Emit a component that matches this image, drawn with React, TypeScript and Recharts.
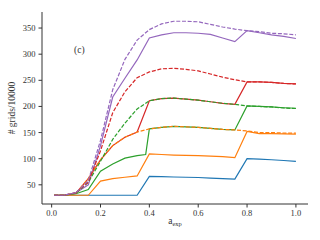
import React from 'react'
import { LineChart, Line, XAxis, YAxis } from 'recharts'

// x positions of the samples (a_exp)
const xs = [0.01, 0.05, 0.1, 0.15, 0.2, 0.25, 0.3, 0.35, 0.4, 0.45, 0.5, 0.55, 0.6, 0.65, 0.7, 0.75, 0.8, 0.85, 0.9, 0.95, 1.0]
// green solid has one extra sample just before its jump
const xsGreen = [0.01, 0.05, 0.1, 0.15, 0.2, 0.25, 0.3, 0.35, 0.385, 0.4, 0.45, 0.5, 0.55, 0.6, 0.65, 0.7, 0.75, 0.8, 0.85, 0.9, 0.95, 1.0]

const blueSolid = [30, 30, 30, 30, 30, 30, 30, 30, 66, 65.5, 65, 64.5, 64, 63, 62, 61, 100, 99, 98, 96.5, 95]
const orangeSolid = [30, 30, 30, 30, 57, 62, 64.5, 67, 109, 108, 107, 106.5, 106, 105, 104, 102, 152, 148, 148, 147.5, 147]
const greenSolid = [30, 30, 33, 41, 76, 90, 101, 106, 108, 157, 160, 162, 161, 160, 158, 156, 155, 201, 200, 199, 197.5, 196.5]
const redSolid = [30, 30, 34, 62, 98, 125, 141, 151, 211, 215, 216, 214, 212, 209, 206, 204, 247, 247, 246, 244, 243]
const purpleSolid = [30, 30, 35, 50, 125, 218, 254, 289, 331, 337, 341, 341, 340, 338, 331, 324, 345, 341, 337, 334, 330]

const orangeDashed = [30, 30, 34, 62, 98, 125, 141, 151, 157, 160, 162, 161, 160, 158, 156, 155, 153, 150, 150, 149, 149]
const greenDashed = [30, 30, 34, 55, 95, 137, 168, 195, 211, 215, 216, 214, 212, 209, 206, 204, 201, 200, 199, 197, 196]
const redDashed = [30, 30, 35, 55, 115, 188, 228, 255, 266, 272, 273, 271, 268, 262, 256, 251, 247, 247, 246, 244, 243]
const purpleDashed = [30, 30, 35, 58, 135, 232, 290, 327, 347, 358, 363, 363, 362, 357, 352, 348, 345, 343, 340, 339, 337]

const xTicks = [0, 0.2, 0.4, 0.6, 0.8, 1.0]
const yTicks = [50, 100, 150, 200, 250, 300, 350]

const toPoints = (x: number[], y: number[]) => x.map((v, i) => ({ x: v, y: y[i] }))

const solids = [
  { name: 'blue', color: '#1f77b4', pts: toPoints(xs, blueSolid) },
  { name: 'orange', color: '#ff7f0e', pts: toPoints(xs, orangeSolid) },
  { name: 'green', color: '#2ca02c', pts: toPoints(xsGreen, greenSolid) },
  { name: 'red', color: '#d62728', pts: toPoints(xs, redSolid) },
  { name: 'purple', color: '#9467bd', pts: toPoints(xs, purpleSolid) },
]
const dashed = [
  { name: 'orange-d', color: '#ff7f0e', pts: toPoints(xs, orangeDashed) },
  { name: 'green-d', color: '#2ca02c', pts: toPoints(xs, greenDashed) },
  { name: 'red-d', color: '#d62728', pts: toPoints(xs, redDashed) },
  { name: 'purple-d', color: '#9467bd', pts: toPoints(xs, purpleDashed) },
]

const font = 'Liberation Serif'
const tickStyle = { fontFamily: font, fontSize: 8.5, fill: '#333' }
const xDomain = [-0.0395, 1.0495]
const yDomain = [13.3, 380.7]

export default function App() {
  return (
    <div style={{ position: 'absolute', left: 0, top: 0, width: 320, height: 240, background: '#fff', fontFamily: font }}>
      <LineChart width={320} height={240} margin={{ top: 12, right: 12, left: 0, bottom: 0 }} style={{ fontFamily: font }}>
        <XAxis dataKey="x" type="number" domain={xDomain} allowDataOverflow ticks={xTicks}
          tickFormatter={(v: number) => v.toFixed(1)} tick={tickStyle} tickSize={3.5} tickMargin={2}
          height={36} stroke="#333" tickLine={{ stroke: '#333' }} />
        <XAxis xAxisId="top" orientation="top" type="number" domain={xDomain} allowDataOverflow
          tick={false} tickLine={false} height={0} stroke="#333" />
        <YAxis type="number" domain={yDomain} allowDataOverflow ticks={yTicks} tick={tickStyle}
          tickSize={3.5} tickMargin={3} width={42} stroke="#333" tickLine={{ stroke: '#333' }} />
        <YAxis yAxisId="right" orientation="right" type="number" domain={yDomain} allowDataOverflow
          tick={false} tickLine={false} width={0} stroke="#333" />
        {solids.map(s => (
          <Line key={s.name} data={s.pts} dataKey="y" stroke={s.color} strokeWidth={1.2}
            dot={false} isAnimationActive={false} />
        ))}
        {dashed.map(s => (
          <Line key={s.name} data={s.pts} dataKey="y" stroke={s.color} strokeWidth={1.2}
            strokeDasharray="4 1.7" dot={false} isAnimationActive={false} />
        ))}
      </LineChart>
      <div style={{ position: 'absolute', left: 74, top: 45, fontSize: 9.5, color: '#333' }}>(c)</div>
      <div style={{ position: 'absolute', left: 175, top: 216, transform: 'translateX(-50%)', fontSize: 9.5, color: '#333', whiteSpace: 'nowrap' }}>
        a<sub style={{ fontSize: 6.5, verticalAlign: '-2px' }}>exp</sub>
      </div>
      <div style={{ position: 'absolute', left: 12, top: 108, transform: 'translate(-50%, -50%) rotate(-90deg)', fontSize: 9.5, color: '#333', whiteSpace: 'nowrap' }}>
        # grids/10000
      </div>
    </div>
  )
}
